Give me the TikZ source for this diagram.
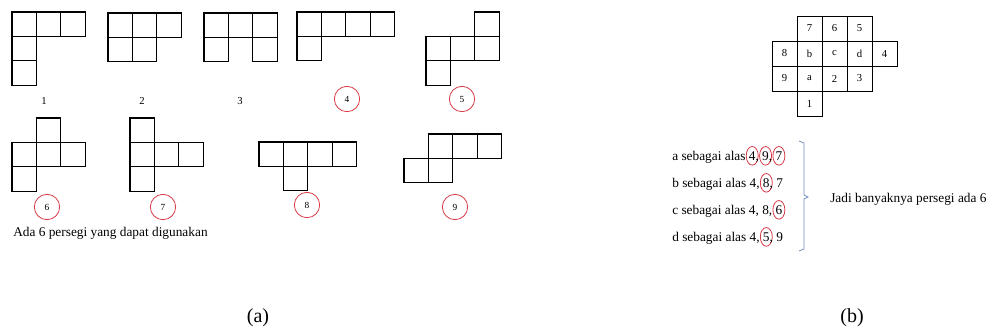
\documentclass[tikz,border=0pt]{standalone}
\usepackage{fontspec}
\setmainfont{Liberation Serif}
\usetikzlibrary{shapes.geometric,positioning}

\definecolor{markred}{RGB}{214,58,72}
\definecolor{braceblue}{RGB}{112,142,192}

% digit with a red ring laid over it
\newcommand\circnum[1]{\tikz[baseline=(d.base)]{\node[anchor=center, inner sep=0pt] (d) {#1};
  \node[ellipse, anchor=center, draw=markred, line width=0.6pt, minimum width=9pt, minimum height=14pt, inner sep=0pt, overlay] (e) at (d.center) {};}}

\begin{document}
\begin{tikzpicture}[
  x=0.75pt, y=-0.75pt,
  sq/.style={draw, line width=1pt},
  num/.style={font=\fontsize{8}{9}\selectfont},
  ring/.style={circle, draw=markred, line width=0.6pt, minimum size=19pt, inner sep=0pt, font=\fontsize{7}{8}\selectfont},
  cellbox/.style={draw, line width=0.7pt, minimum size=18.75pt, inner sep=0pt, font=\fontsize{8}{9}\selectfont},
  textline/.style={anchor=west, inner sep=0pt, font=\fontsize{10}{12}\selectfont},
  captext/.style={font=\fontsize{15}{17}\selectfont}
]
\useasboundingbox (0,0) rectangle (998,333);

% (a) the nine nets
\foreach \ox/\oy/\cells in {12/12/{0/0,1/0,2/0,0/1,0/2}, 108/13/{0/0,1/0,2/0,0/1,1/1},
    204/13/{0/0,1/0,2/0,0/1,2/1}, 297/12/{0/0,1/0,2/0,3/0,0/1}, 426/12/{2/0,0/1,1/1,2/1,0/2},
    12/118/{1/0,0/1,1/1,2/1,0/2}, 130/118/{0/0,0/1,0/2,1/1,2/1}, 259/142/{0/0,1/0,2/0,3/0,1/1},
    404/134/{1/0,2/0,3/0,0/1,1/1}}
  \foreach \c/\r in \cells
    \draw[sq] (\ox+\c*24.4, \oy+\r*24.4) rectangle ++(24.4,24.4);

\node[num] (l1) at (44,101) {1};
\node[num] (l2) at (142,101) {2};
\node[num] (l3) at (240,101) {3};
\node[ring] (l4) at (347,99) {4};
\node[ring] (l5) at (462,99) {5};
\node[ring] (l6) at (47,207) {6};
\node[ring] (l7) at (163,207) {7};
\node[ring] (l8) at (307,205) {8};
\node[ring] (l9) at (455,207) {9};
\node[textline] (ada) at (13,233) {Ada 6 persegi yang dapat digunakan};

% (b) labelled net
\foreach \t/\c/\r in {7/1/0,6/2/0,5/3/0,8/0/1,b/1/1,c/2/1,d/3/1,4/4/1,9/0/2,a/1/2,2/2/2,3/3/2,1/1/3}
  \node[cellbox] (g\c\r) at (784.5+\c*25, 28.5+\r*25) {\t};

\node[textline] (ta) at (672,157) {a sebagai alas \circnum{4}, \circnum{9}, \circnum{7}};
\node[textline] (tb) at (672,184) {b sebagai alas 4, \circnum{8}, 7};
\node[textline] (tc) at (672,211) {c sebagai alas 4, 8, \circnum{6}};
\node[textline] (td) at (672,238) {d sebagai alas 4, \circnum{5}, 9};

\draw[braceblue, line width=0.6pt] (799,141) -- (804,143) -- (804,195) -- (808,197) -- (804,199) -- (804,249) -- (799,251);
\node[textline] (jadi) at (830,199) {Jadi banyaknya persegi ada 6};

\node[captext] (capa) at (258,318) {(a)};
\node[captext] (capb) at (852,318) {(b)};
\end{tikzpicture}
\end{document}
